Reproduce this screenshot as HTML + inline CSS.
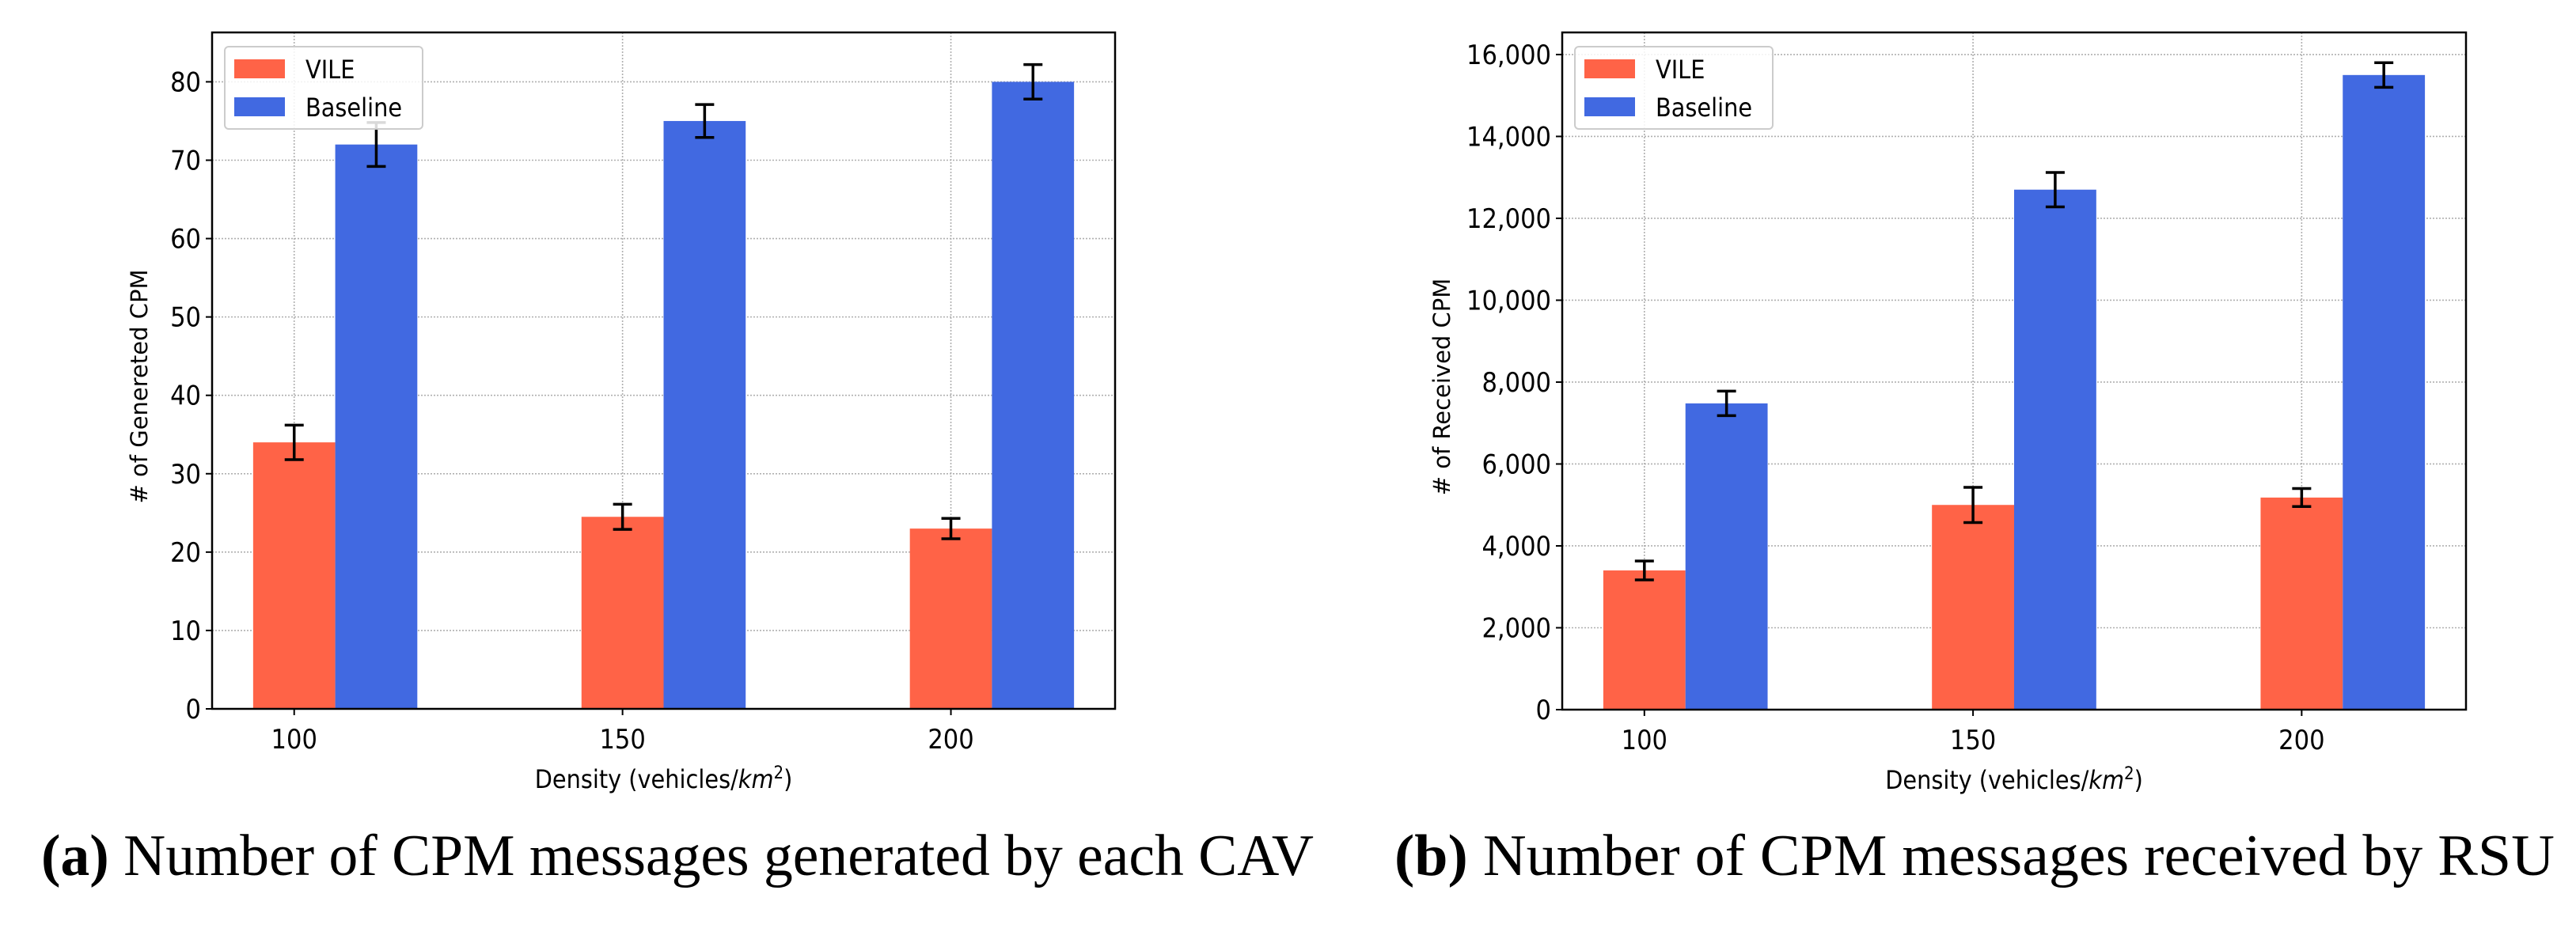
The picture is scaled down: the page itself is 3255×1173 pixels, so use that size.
<!DOCTYPE html>
<html><head><meta charset="utf-8"><style>
body{margin:0;background:#fff}
svg text{font-family:"DejaVu Sans Condensed","DejaVu Sans","Liberation Sans",sans-serif}
.cap{font-family:"Liberation Serif",serif;font-size:74px}
</style></head><body>
<svg id="s" width="3255" height="1168" viewBox="0 0 3255 1168" xmlns="http://www.w3.org/2000/svg">
<text class="cap" x="52" y="1106" textLength="1608" lengthAdjust="spacingAndGlyphs"><tspan font-weight="bold">(a)</tspan> Number of CPM messages generated by each CAV</text>
<text class="cap" x="1762" y="1106" textLength="1466" lengthAdjust="spacingAndGlyphs"><tspan font-weight="bold">(b)</tspan> Number of CPM messages received by RSU</text>
</svg>
<script>
const categories=["100","150","200"];
const vileA=[34,24.5,23];
const vileAErr=[2.2,1.6,1.3];
const baseA=[72,75,80];
const baseAErr=[2.8,2.1,2.2];
const ticksA=[0,10,20,30,40,50,60,70,80];
const vileB=[3400,5000,5180];
const vileBErr=[230,430,220];
const baseB=[7480,12700,15500];
const baseBErr=[300,420,300];
const ticksB=[0,2000,4000,6000,8000,10000,12000,14000,16000];
const NS="http://www.w3.org/2000/svg";
const svg=document.getElementById('s');
function mk(t,a,p){const e=document.createElementNS(NS,t);for(const k in a)e.setAttribute(k,a[k]);(p||svg).appendChild(e);return e;}
function chart(o){
  const g=mk('g',{});
  
  
  const L=o.L,R=o.R,T=o.T,B=o.B;
  const xs=i=>L+(i+0.25)/2.75*(R-L);
  const bw=0.25/2.75*(R-L);
  const ys=v=>B-(v/o.ymax)*(B-T);
  o.ticks.forEach(t=>{
    const l=mk('line',{x1:L,x2:R,y1:ys(t),y2:ys(t),stroke:'#b0b0b0','stroke-width':1.6,'stroke-dasharray':'2,2'},g);
    
    
    const tk=mk('line',{x1:L-8,x2:L,y1:ys(t),y2:ys(t),stroke:'#000','stroke-width':2},g);
    
    
    const tx=mk('text',{x:L-14,y:ys(t)+12,'text-anchor':'end','font-size':34},g);
    
    
    tx.textContent=t.toLocaleString('en-US');
  });
  categories.forEach((c,i)=>{
    const l=mk('line',{x1:xs(i),x2:xs(i),y1:T,y2:B,stroke:'#b0b0b0','stroke-width':1.6,'stroke-dasharray':'2,2'},g);
    
    
  });
  function bars(vals,errs,off,col,nm){
    vals.forEach((v,i)=>{
      const cx=xs(i)+off*bw;
      const r=mk('rect',{x:cx-bw/2,y:ys(v),width:bw,height:B-ys(v),fill:col},g);
      
      
      const e=errs[i];
      const p=mk('path',{d:`M${cx},${ys(v+e)}V${ys(v-e)}M${cx-12},${ys(v+e)}H${cx+12}M${cx-12},${ys(v-e)}H${cx+12}`,stroke:'#000','stroke-width':3.5,fill:'none'},g);
      
      
    });
  }
  bars(o.vile,o.vileErr,0,'#ff6347','vile');
  bars(o.base,o.baseErr,1,'#4169e1','baseline');
  const fr=mk('rect',{x:L,y:T,width:R-L,height:B-T,fill:'none',stroke:'#000','stroke-width':2.5},g);
  
  
  categories.forEach((c,i)=>{
    const tk=mk('line',{x1:xs(i),x2:xs(i),y1:B,y2:B+8,stroke:'#000','stroke-width':2},g);
    
    
    const tx=mk('text',{x:xs(i),y:B+50,'text-anchor':'middle','font-size':34},g);
    
    
    tx.textContent=c;
  });
  const xl=mk('text',{x:(L+R)/2,y:B+100,'text-anchor':'middle','font-size':32},g);
  
  
  xl.innerHTML='Density (vehicles/<tspan font-style="italic">km</tspan><tspan dy="-12" font-size="22">2</tspan><tspan dy="12">)</tspan>';
  const yl=mk('text',{transform:`translate(${o.ylx},${(T+B)/2+20}) rotate(-90)`,'text-anchor':'middle','font-size':29,style:'font-family:"DejaVu Sans",sans-serif'},g);
  
  
  yl.textContent=o.ylabel;
  const lg=mk('g',{},g);
  
  
  mk('rect',{x:L+16,y:T+18,width:250,height:104,rx:5,fill:'#fff','fill-opacity':0.85,stroke:'#ccc','stroke-width':2},lg);
  [['VILE','#ff6347',0],['Baseline','#4169e1',1]].forEach(([n,c,k])=>{
    const r=mk('rect',{x:L+28,y:T+34+k*48,width:64,height:24,fill:c},lg);
    
    
    const t=mk('text',{x:L+118,y:T+58+k*48,'font-size':32},lg);
    
    
    t.textContent=n;
  });
}
chart({name:'chart-generated-cpm',L:268,R:1409,T:41,B:896,ymax:86.3,ticks:ticksA,vile:vileA,vileErr:vileAErr,base:baseA,baseErr:baseAErr,ylabel:'# of Genereted CPM',ylx:186});
chart({name:'chart-received-cpm',L:1974,R:3116,T:41,B:897,ymax:16540,ticks:ticksB,vile:vileB,vileErr:vileBErr,base:baseB,baseErr:baseBErr,ylabel:'# of Received CPM',ylx:1832});
</script>
</body></html>
